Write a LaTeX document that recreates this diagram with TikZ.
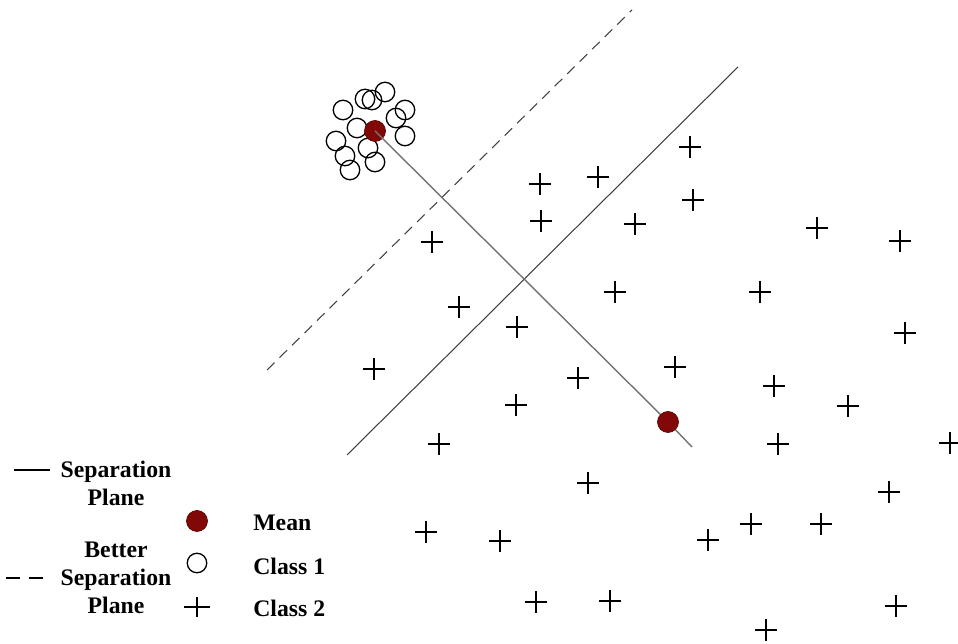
\documentclass[tikz,border=0pt]{standalone}
\usepackage{fontspec}
\setmainfont{Liberation Serif}
\definecolor{meanred}{RGB}{130,8,8}
\begin{document}
\begin{tikzpicture}[x=0.02cm,y=-0.02cm,
  pt/.style={draw=black,line width=0.75pt,circle,inner sep=0pt,minimum size=19.5*0.02cm},
  meandot/.style={circle,fill=meanred,draw=meanred!70!black,inner sep=0pt,minimum size=21*0.02cm},
  lbl/.style={font=\fontsize{13.5}{16}\selectfont\bfseries,align=center,inner sep=0pt},
  sepline/.style={draw=black!75,line width=0.6pt}]
\useasboundingbox (0,0) rectangle (958,644);
\newcommand{\plusmark}[2]{\draw[line width=0.7pt] (#1-11,#2) -- (#1+11,#2) (#1,#2-11) -- (#1,#2+11);}
% separation planes
\coordinate (s1) at (347,455); \coordinate (s2) at (738,67);
\draw[sepline] (s1) -- (s2);
\coordinate (d1) at (267,370); \coordinate (d2) at (632,10);
\draw[sepline,dashed,dash pattern=on 6pt off 4pt] (d1) -- (d2);
% class 1 cluster
\foreach \x/\y [count=\i] in {385/92,365/99,372/100,343/110,405/110,396/118,357/128,405/136,336/141,368/148,345/156,375/162,350/170}
  \node[pt] (c\i) at (\x,\y) {};
% means
\node[meandot] (m1) at (375,131) {};
\node[meandot] (m2) at (668,422) {};
\coordinate (mend) at (692,447);
\draw[draw=black!55,line width=0.8pt] (m1.center) -- (m2) -- (mend);
% class 2
\foreach \x/\y in {690/147,540/184,598/177,693/200,541/221,635/224,432/242,817/228,900/241,615/292,760/292,459/307,517/327,905/333,374/369,578/378,675/367,774/386,516/405,848/406,439/444,778/444,950/443,588/483,889/492,426/532,500/541,708/540,751/524,821/524,536/602,610/601,896/606,766/630}
  {\plusmark{\x}{\y}}
% legend
\coordinate (l1a) at (14,470); \coordinate (l1b) at (50,470);
\draw[line width=0.7pt] (l1a) -- (l1b);
\node[lbl] (t1) at (116,483) {Separation\\Plane};
\coordinate (l2a) at (6,578); \coordinate (l2b) at (50,578);
\draw[line width=0.7pt,dash pattern=on 8pt off 5pt] (l2a) -- (l2b);
\node[lbl] (t2) at (116,578) {Better\\Separation\\Plane};
\node[meandot] (lm) at (197,521) {};
\node[pt] (lc) at (197,563) {};
\coordinate (lp) at (197,607);
\draw[line width=0.7pt] (184,607) -- (210,607) (197,597) -- (197,617);
\node[lbl,anchor=west] (tm) at (253,523) {Mean};
\node[lbl,anchor=west] (tc1) at (253,566) {Class 1};
\node[lbl,anchor=west] (tc2) at (253,608) {Class 2};
\end{tikzpicture}
\end{document}
